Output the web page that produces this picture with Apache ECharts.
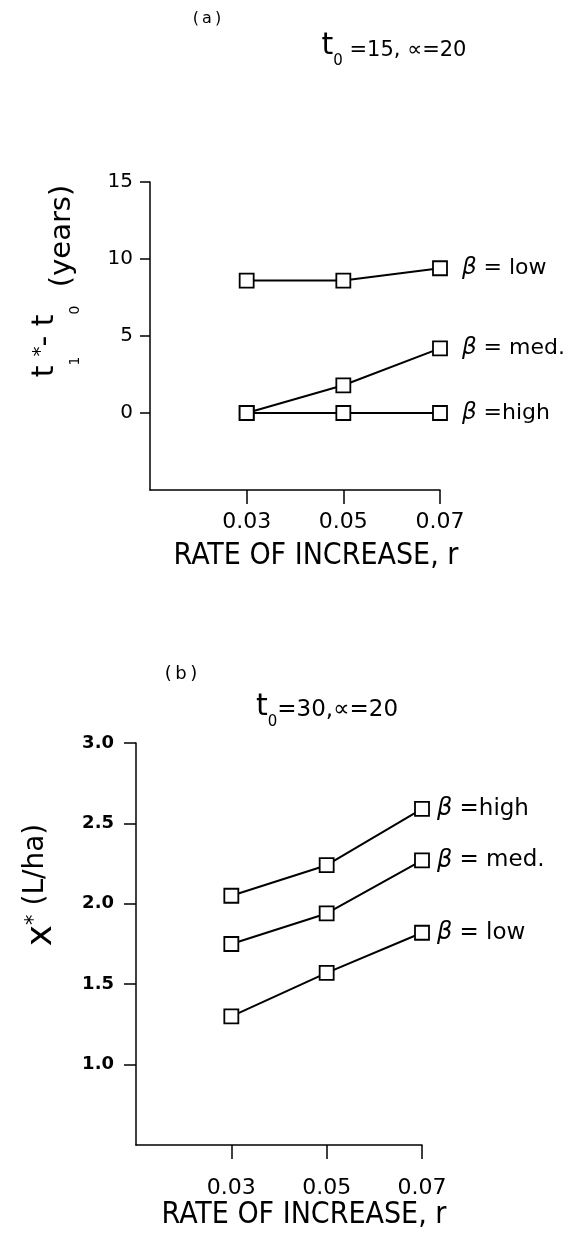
<!DOCTYPE html>
<html><head><meta charset="utf-8">
<script src="https://cdn.jsdelivr.net/npm/echarts@6/dist/echarts.min.js"></script>
<style>html,body{margin:0;padding:0;background:#fff}#c{width:568px;height:1241px}</style>
</head><body><div id="c"></div>
<script>
// ---- data ----
const rates = [0.03, 0.05, 0.07];
const xTicks = [0.03, 0.05, 0.07];
const yTicksA = [0, 5, 10, 15];
const yTicksB = [1.0, 1.5, 2.0, 2.5, 3.0];
// panel (a): t1* - t0 (years), t0=15, alpha=20
const aLow = [8.6, 8.6, 9.4];
const aMed = [0, 1.8, 4.2];
const aHigh = [0, 0, 0];
const aNames = ['= low', '= med.', '=high'];
// panel (b): x* (L/ha), t0=30, alpha=20
const bHigh = [2.05, 2.24, 2.59];
const bMed = [1.75, 1.94, 2.27];
const bLow = [1.30, 1.57, 1.82];
const bNames = ['=high', '= med.', '= low'];

const F = "'DejaVu Sans', sans-serif";
const N = "'Liberation Sans Narrow', 'DejaVu Sans Condensed', 'Roboto Condensed', sans-serif";

function mkSeries(vals, name, idx, dist, fs) {
  return {
    type: 'line', name: name, xAxisIndex: idx, yAxisIndex: idx,
    data: vals.map((v, i) => i === vals.length - 1
      ? { value: [rates[i], v], label: { show: true } }
      : [rates[i], v]),
    symbol: 'rect', symbolSize: 14, showAllSymbol: true,
    itemStyle: { color: '#fff', borderColor: '#000', borderWidth: 1.8 },
    lineStyle: { color: '#000', width: 2 },
    label: {
      show: false, position: 'right', distance: dist, color: '#000',
      fontFamily: F, fontSize: fs,
      formatter: '{beta|\u03B2} ' + name,
      rich: { beta: { fontStyle: 'italic', fontSize: fs + 1, fontFamily: F, color: '#000' } }
    },
    emphasis: { disabled: true }, animation: false
  };
}

function xAxisCfg(idx, labelMargin, nameGap, shift) {
  return {
    gridIndex: idx, type: 'value', min: 0.01, max: 0.07,
    axisLine: { onZero: false, lineStyle: { color: '#000', width: 1.5 } },
    axisTick: { customValues: xTicks, length: 14, lineStyle: { color: '#000', width: 1.5 } },
    axisLabel: { customValues: xTicks, margin: labelMargin, fontSize: 22, fontFamily: F, color: '#000',
      formatter: v => v.toFixed(2) },
    splitLine: { show: false },
    name: 'RATE OF INCREASE, r', nameLocation: 'middle', nameGap: nameGap,
    nameTextStyle: { fontSize: 30, fontFamily: N, color: '#000', padding: [0, 0, 0, shift] }
  };
}

function titleRich(tSize, sSize, mSize) {
  return {
    t: { fontSize: tSize, fontFamily: F, fill: '#000', verticalAlign: 'bottom', padding: [0, 0, 8, 0] },
    s: { fontSize: sSize, fontFamily: F, fill: '#000', verticalAlign: 'bottom' },
    m: { fontSize: mSize, fontFamily: F, fill: '#000', verticalAlign: 'bottom', padding: [0, 0, 8, 0] }
  };
}

const chart = echarts.init(document.getElementById('c'), null, { renderer: 'canvas' });
chart.setOption({
  backgroundColor: '#fff',
  animation: false,
  graphic: [
    { type: 'text', x: 207, y: 19, silent: true,
      style: { text: '{p|(\u2009a\u2009)}', align: 'center', verticalAlign: 'middle',
        rich: { p: { fontSize: 16, fontFamily: F, fill: '#000' } } } },
    { type: 'text', x: 394, y: 69, silent: true,
      style: { text: '{t|t}{s|0}{m| =15, \u221D=20}', align: 'center', verticalAlign: 'bottom', rich: titleRich(30, 15, 21) } },
    { type: 'text', x: 181, y: 674, silent: true,
      style: { text: '{p|(\u2009b\u2009)}', align: 'center', verticalAlign: 'middle',
        rich: { p: { fontSize: 18, fontFamily: F, fill: '#000' } } } },
    { type: 'text', x: 327, y: 730, silent: true,
      style: { text: '{t|t}{s|0}{m|=30,\u221D=20}', align: 'center', verticalAlign: 'bottom', rich: titleRich(30, 15, 23) } }
  ],
  grid: [
    { left: 150, top: 182, width: 290, height: 308, containLabel: false },
    { left: 136, top: 743, width: 286, height: 402, containLabel: false }
  ],
  xAxis: [ xAxisCfg(0, 21, 51, 42), xAxisCfg(1, 32, 52, 50) ],
  yAxis: [
    { gridIndex: 0, type: 'value', min: -5, max: 15, interval: 5,
      axisLine: { show: true, lineStyle: { color: '#000', width: 1.5 } },
      axisTick: { show: true, customValues: yTicksA, length: 10, lineStyle: { color: '#000', width: 1.5 } },
      axisLabel: { customValues: yTicksA, margin: 17, fontSize: 20, fontFamily: F, color: '#000' },
      splitLine: { show: false },
      name: '{t|t}{sub|1}{sup|*}{t|- t}{sub|0}{y|  (years)}',
      nameLocation: 'middle', nameRotate: 90, nameGap: 68,
      nameTextStyle: { padding: [0, 0, 0, 110], rich: {
        t: { fontSize: 30, fontFamily: F, color: '#000', verticalAlign: 'bottom', padding: [0, 0, 22, 0] },
        sub: { fontSize: 14, fontFamily: F, color: '#000', verticalAlign: 'bottom' },
        sup: { fontSize: 20, fontFamily: F, color: '#000', verticalAlign: 'bottom', padding: [0, 0, 31, 0] },
        y: { fontSize: 29, fontFamily: F, color: '#000', verticalAlign: 'bottom', padding: [0, 0, 5, 0] }
      } } },
    { gridIndex: 1, type: 'value', min: 0.5, max: 3.0, interval: 0.5,
      axisLine: { show: true, lineStyle: { color: '#000', width: 1.5 } },
      axisTick: { show: true, customValues: yTicksB, length: 12, lineStyle: { color: '#000', width: 1.5 } },
      axisLabel: { customValues: yTicksB, margin: 22, fontSize: 18, fontWeight: 'bold', fontFamily: F, color: '#000',
        formatter: v => v.toFixed(1) },
      splitLine: { show: false },
      name: '{x|x}{sup|*}{l| (L/ha)}',
      nameLocation: 'middle', nameRotate: 90, nameGap: 76,
      nameTextStyle: { padding: [0, 0, 0, 118], rich: {
        x: { fontSize: 36, fontFamily: F, color: '#000', verticalAlign: 'bottom' },
        sup: { fontSize: 21, fontFamily: F, color: '#000', verticalAlign: 'bottom', padding: [0, 0, 15, 0] },
        l: { fontSize: 28, fontFamily: F, color: '#000', verticalAlign: 'bottom', padding: [0, 0, 10, 0] }
      } } }
  ],
  series: [
    mkSeries(aLow, aNames[0], 0, 14, 22),
    mkSeries(aMed, aNames[1], 0, 14, 22),
    mkSeries(aHigh, aNames[2], 0, 14, 22),
    mkSeries(bHigh, bNames[0], 1, 7, 23),
    mkSeries(bMed, bNames[1], 1, 7, 23),
    mkSeries(bLow, bNames[2], 1, 7, 23)
  ]
});
</script>
</body></html>
